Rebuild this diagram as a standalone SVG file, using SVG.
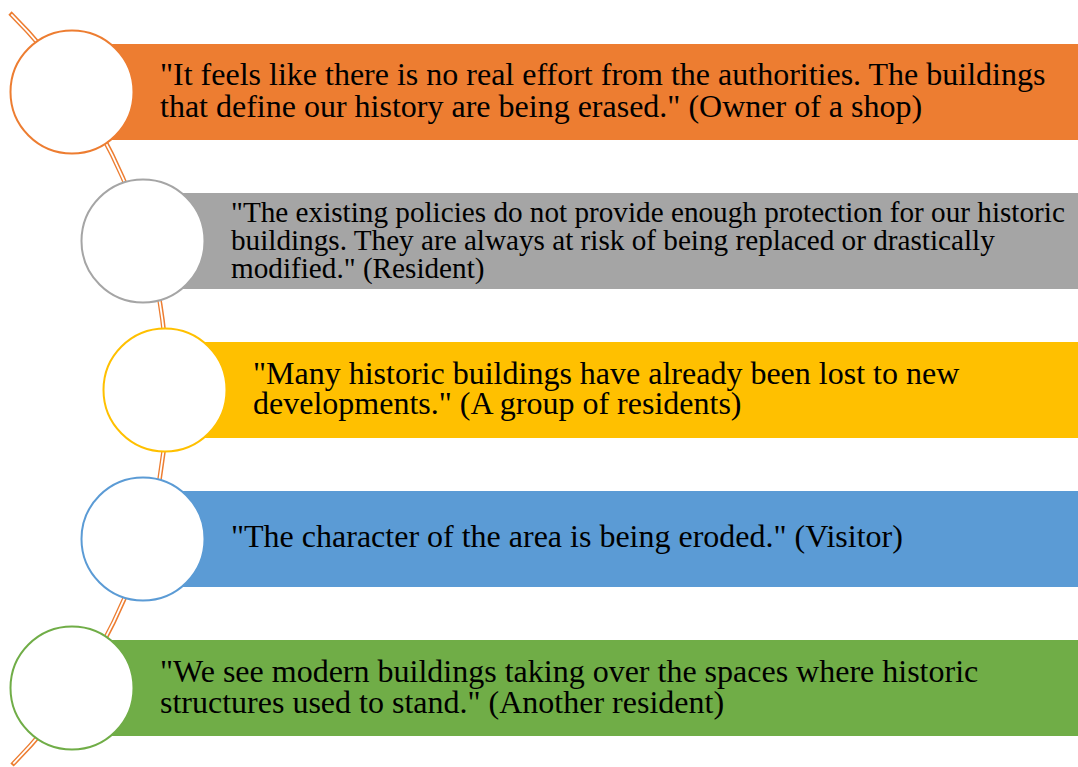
<svg xmlns="http://www.w3.org/2000/svg" width="1078" height="767" viewBox="0 0 1078 767">
<style>
.t{font-family:"Liberation Serif","Times New Roman",serif;fill:#000;}
.c{fill:#fff;stroke-width:2;}
</style>
<rect width="1078" height="767" fill="#fff"/>
<g id="bars">
<rect x="72" y="44" width="1006" height="96" fill="#ED7D31"/>
<rect x="143" y="193" width="935" height="96" fill="#A5A5A5"/>
<rect x="165" y="342" width="913" height="96" fill="#FFC000"/>
<rect x="143" y="491" width="935" height="96" fill="#5B9BD5"/>
<rect x="72" y="640" width="1006" height="96" fill="#70AD47"/>
</g>
<g id="connectors">
<path d="M 10 13 A 531 531 0 0 1 12 765" fill="none" stroke="#ED7D31" stroke-width="4.6"/>
<path d="M 11.3 14.4 A 531 531 0 0 1 13.3 763.6" fill="none" stroke="#fff" stroke-width="1.8"/>
</g>
<g id="node1">
<circle class="c" cx="72" cy="92" r="61.5" stroke="#ED7D31"/>
<text class="t" font-size="32"><tspan x="160" y="85">"It feels like there is no real effort from the authorities. The buildings</tspan><tspan x="160" y="117">that define our history are being erased." (Owner of a shop)</tspan></text>
</g>
<g id="node2">
<circle class="c" cx="143" cy="241" r="61.5" stroke="#A5A5A5"/>
<text class="t" font-size="29.2"><tspan x="231" y="222">"The existing policies do not provide enough protection for our historic</tspan><tspan x="231" y="250">buildings. They are always at risk of being replaced or drastically</tspan><tspan x="231" y="278">modified." (Resident)</tspan></text>
</g>
<g id="node3">
<circle class="c" cx="165" cy="390" r="61.5" stroke="#FFC000"/>
<text class="t" font-size="32"><tspan x="253" y="384">"Many historic buildings have already been lost to new</tspan><tspan x="253" y="414">developments." (A group of residents)</tspan></text>
</g>
<g id="node4">
<circle class="c" cx="143" cy="539" r="61.5" stroke="#5B9BD5"/>
<text class="t" font-size="32" x="231" y="547">"The character of the area is being eroded." (Visitor)</text>
</g>
<g id="node5">
<circle class="c" cx="72" cy="688" r="61.5" stroke="#70AD47"/>
<text class="t" font-size="32"><tspan x="160" y="682">"We see modern buildings taking over the spaces where historic</tspan><tspan x="160" y="713">structures used to stand." (Another resident)</tspan></text>
</g>
</svg>
